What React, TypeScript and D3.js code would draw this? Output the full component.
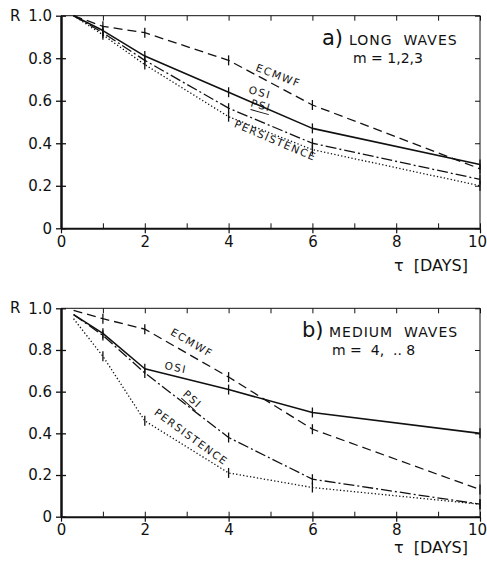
import { useEffect, useRef } from 'react';
import * as d3 from 'd3';

// lead time in days
const leadTime = [0.3, 1, 2, 4, 6, 10];

// a) long waves m = 1,2,3
const ecmwfLong = [1.0, 0.95, 0.92, 0.79, 0.58, 0.28];
const osiLong = [1.0, 0.93, 0.81, 0.64, 0.47, 0.3];
const psiLong = [1.0, 0.92, 0.79, 0.565, 0.4, 0.23];
const persLong = [1.0, 0.91, 0.77, 0.525, 0.37, 0.2];

// b) medium waves m = 4..8
const ecmwfMed = [0.99, 0.95, 0.9, 0.67, 0.42, 0.13];
const osiMed = [0.97, 0.88, 0.71, 0.61, 0.5, 0.4];
const psiMed = [0.97, 0.87, 0.69, 0.38, 0.18, 0.06];
const persMed = [0.95, 0.77, 0.46, 0.21, 0.14, 0.06];

const xTicks = [0, 2, 4, 6, 8, 10];
const yTicks = [0, 0.2, 0.4, 0.6, 0.8, 1.0];

const FONT = 'DejaVu Sans, sans-serif';

const styles = {
  ECMWF: { dash: '9,5', width: 1.3 },
  OSI: { dash: null, width: 1.6 },
  PSI: { dash: '11,3,2,3', width: 1.3 },
  PERSISTENCE: { dash: '1.3,2.2', width: 1.3 },
};

const panels = [
  {
    top: 15.7,
    bottom: 228.3,
    letter: 'a)',
    title: 'LONG WAVES',
    sub: 'm = 1,2,3',
    titleX: 322,
    titleY: 45,
    subX: 353,
    subY: 63,
    tauY: 43,
    series: [
      { name: 'ECMWF', values: ecmwfLong },
      { name: 'OSI', values: osiLong },
      { name: 'PSI', values: psiLong },
      { name: 'PERSISTENCE', values: persLong },
    ],
    labels: [
      { text: 'ECMWF', x: 277, y: 79, rot: 21 },
      { text: 'OSI', x: 259, y: 96, rot: 15 },
      { text: 'PSI', x: 260, y: 109, rot: 16, underline: true },
      { text: 'PERSISTENCE', x: 274, y: 144, rot: 23 },
    ],
  },
  {
    top: 308.3,
    bottom: 516.7,
    letter: 'b)',
    title: 'MEDIUM WAVES',
    sub: 'm =  4,  .. 8',
    titleX: 302,
    titleY: 337,
    subX: 332,
    subY: 355,
    tauY: 36,
    series: [
      { name: 'ECMWF', values: ecmwfMed },
      { name: 'OSI', values: osiMed },
      { name: 'PSI', values: psiMed },
      { name: 'PERSISTENCE', values: persMed },
    ],
    labels: [
      { text: 'ECMWF', x: 190, y: 346, rot: 30 },
      { text: 'OSI', x: 175, y: 371, rot: 12 },
      { text: 'PSI', x: 190, y: 402, rot: 42, underline: true },
      { text: 'PERSISTENCE', x: 189, y: 440, rot: 36 },
    ],
  },
];

const App = () => {
  const ref = useRef(null);

  useEffect(() => {
    const svg = d3.select(ref.current);
    svg.selectAll('*').remove();

    const x = d3.scaleLinear().domain([0, 10]).range([61, 480]);

    panels.forEach((p) => {
      const y = d3.scaleLinear().domain([0, 1]).range([p.bottom, p.top]);
      const g = svg.append('g');

      // frame
      g.append('line').attr('x1', 61).attr('x2', 480).attr('y1', p.top).attr('y2', p.top)
        .attr('stroke', '#111').attr('stroke-width', 1);
      g.append('line').attr('x1', 480).attr('x2', 480).attr('y1', p.top).attr('y2', p.bottom)
        .attr('stroke', '#111').attr('stroke-width', 1);

      // left axis (ticks crossing the line)
      const left = g.append('g').attr('transform', `translate(61,0)`)
        .call(d3.axisLeft(y).tickValues(yTicks).tickSize(5).tickSizeOuter(0).tickPadding(4)
          .tickFormat((d) => (d === 0 ? '0' : d3.format('.1f')(d))));
      left.select('.domain').attr('stroke-width', 2.5).attr('stroke', '#111');
      left.selectAll('.tick line').attr('stroke-width', 1.3).attr('stroke', '#111');
      left.selectAll('.tick text').attr('font-size', 15).attr('font-family', FONT).attr('fill', '#111');
      g.append('g').attr('transform', `translate(61,0)`)
        .call(d3.axisLeft(y).tickValues(yTicks).tickSize(-5).tickSizeOuter(0).tickFormat(() => ''))
        .call((s) => s.select('.domain').remove())
        .selectAll('.tick line').attr('stroke', '#111').attr('stroke-width', 1.3);

      // right axis ticks
      g.append('g').attr('transform', `translate(480,0)`)
        .call(d3.axisRight(y).tickValues(yTicks).tickSize(-5).tickSizeOuter(0).tickFormat(() => ''))
        .call((s) => s.select('.domain').remove())
        .selectAll('.tick line').attr('stroke', '#111');

      // bottom axis
      const bottom = g.append('g').attr('transform', `translate(0,${p.bottom})`)
        .call(d3.axisBottom(x).tickValues(xTicks).tickSize(5).tickSizeOuter(0).tickPadding(3));
      bottom.select('.domain').attr('stroke-width', 2).attr('stroke', '#111');
      bottom.selectAll('.tick line').attr('stroke', '#111').attr('stroke-width', 1.2);
      bottom.selectAll('.tick text').attr('font-size', 15).attr('font-family', FONT).attr('fill', '#111')
        .attr('dx', (d) => (d === 10 ? -3 : 0));
      g.append('g').attr('transform', `translate(0,${p.bottom})`)
        .call(d3.axisBottom(x).ticks(10).tickSize(-5).tickSizeOuter(0).tickFormat(() => ''))
        .call((s) => s.select('.domain').remove())
        .selectAll('.tick line').attr('stroke', '#111');

      // top axis ticks
      g.append('g').attr('transform', `translate(0,${p.top})`)
        .call(d3.axisTop(x).ticks(10).tickSize(-5).tickSizeOuter(0).tickFormat(() => ''))
        .call((s) => s.select('.domain').remove())
        .selectAll('.tick line').attr('stroke', '#111');

      // R label
      g.append('text').attr('x', 10).attr('y', y(1) + 5).attr('font-family', FONT)
        .attr('font-size', 15).attr('fill', '#111').text('R');

      // tau [DAYS]
      g.append('text').attr('x', 394).attr('y', p.bottom + p.tauY).attr('font-family', FONT)
        .attr('font-size', 16).attr('fill', '#111').attr('xml:space', 'preserve')
        .text('τ  [DAYS]');

      // series
      const line = d3.line()
        .x((d, i) => x(leadTime[i]))
        .y((d) => y(d));

      p.series.forEach((s) => {
        const st = styles[s.name];
        g.append('path')
          .datum(s.values)
          .attr('d', line)
          .attr('fill', 'none')
          .attr('stroke', '#111')
          .attr('stroke-width', st.width)
          .attr('stroke-linejoin', 'round')
          .attr('stroke-dasharray', st.dash);

        g.selectAll(null)
          .data(s.values.slice(1))
          .enter()
          .append('line')
          .attr('x1', (d, i) => x(leadTime[i + 1]))
          .attr('x2', (d, i) => x(leadTime[i + 1]))
          .attr('y1', (d) => y(d) - 5)
          .attr('y2', (d) => y(d) + 5)
          .attr('stroke', '#111')
          .attr('stroke-width', 1.3);
      });

      // series labels
      p.labels.forEach((l) => {
        const t = g.append('g').attr('transform', `translate(${l.x},${l.y}) rotate(${l.rot})`);
        t.append('text')
          .attr('text-anchor', 'middle')
          .attr('font-family', FONT)
          .attr('font-size', 10.5)
          .attr('letter-spacing', 1.5)
          .attr('fill', '#111')
          .text(l.text);
        if (l.underline) {
          t.append('line').attr('x1', -9).attr('x2', 10).attr('y1', 3).attr('y2', 3)
            .attr('stroke', '#111').attr('stroke-width', 1);
        }
      });

      // title
      g.append('text').attr('x', p.titleX).attr('y', p.titleY).attr('font-family', FONT)
        .attr('font-size', 21).attr('fill', '#111').text(p.letter);
      g.append('text').attr('x', p.titleX + 27).attr('y', p.titleY).attr('font-family', FONT)
        .attr('font-size', 14).attr('letter-spacing', 1).attr('fill', '#111')
        .attr('xml:space', 'preserve').text(p.title.replace(' ', '  '));
      g.append('text').attr('x', p.subX).attr('y', p.subY).attr('font-family', FONT)
        .attr('font-size', 14).attr('fill', '#111').attr('xml:space', 'preserve').text(p.sub);
    });
  }, []);

  return (
    <div style={{ position: 'absolute', left: 0, top: 0 }}>
      <svg ref={ref} width={487} height={569} style={{ display: 'block', background: '#fff' }}></svg>
    </div>
  );
};

export default App;
